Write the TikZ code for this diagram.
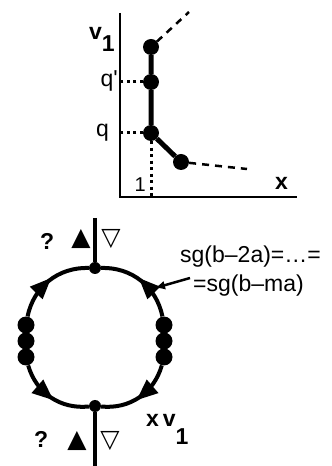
\documentclass[tikz,border=0pt]{standalone}
\usepackage{fontspec}
\setmainfont{Liberation Sans}
\newfontfamily\symfont{DejaVu Sans}
\usetikzlibrary{arrows.meta, positioning, decorations.markings}
\tikzstyle{dot} = [circle, fill=black, inner sep=0pt, minimum size=17pt]
\tikzstyle{smalldot} = [circle, fill=black, inner sep=0pt, minimum size=12pt]
\tikzstyle{txt} = [inner sep=0pt, font=\fontsize{23}{26}\selectfont]
\tikzstyle{sym} = [inner sep=0pt, font=\symfont\fontsize{25}{28}\selectfont]
\tikzstyle{axis} = [line width=2pt]
\tikzstyle{chain} = [line width=5pt]
\tikzstyle{guide} = [line width=3pt, dash pattern=on 3pt off 3.5pt]
\tikzstyle{tail} = [line width=2.5pt, dash pattern=on 7pt off 6pt]
\tikzstyle{ring} = [line width=4pt, postaction={decorate}, decoration={markings, mark=at position 0.42 with {\fill (-11pt,-9pt) -- (10pt,0pt) -- (-11pt,9pt) -- cycle;}}]
\tikzstyle{stem} = [line width=4.5pt]
\tikzstyle{pointer} = [line width=2.5pt, -{Latex[length=10pt,width=9pt]}]

\begin{document}
\begin{tikzpicture}[x=1pt, y=1pt]
    \useasboundingbox (0,0) rectangle (332,466);

    % Plot
    \coordinate (origin) at (120,269);
    \coordinate (ytop) at (120,453);
    \coordinate (xend) at (297,269);
    \node (p3) [dot, minimum size=16pt] at (151,419) {};
    \node (p2) [dot, minimum size=16pt] at (151,384) {};
    \node (p1) [dot, minimum size=16pt] at (151,333) {};
    \node (p0) [dot, minimum size=16pt] at (181,304) {};
    \coordinate (taila) at (189,454);
    \coordinate (tailb) at (247,297);
    \coordinate (qpr) at (120,384);
    \coordinate (qq) at (120,333);
    \coordinate (one) at (151,269);

    \node (v1) [txt, anchor=base west] at (89,426) {\bfseries v\raisebox{-12pt}{1}};
    \node (qprlbl) [txt, anchor=base east] at (118,379) {\addfontfeatures{Ligatures=TeXOff}q'};
    \node (qlbl) [txt, anchor=base east] at (109,329) {q};
    \node (onelbl) [txt, anchor=base east, font=\fontsize{20}{22}\selectfont] at (146,274) {1};
    \node (xlbl) [txt, anchor=base west] at (275,276) {\bfseries x};

    \draw [axis] (ytop) -- (origin) -- (xend);
    \draw [chain] (p3) -- (p2) -- (p1) -- (p0);
    \draw [tail] (p3) -- (taila);
    \draw [tail] (p0) -- (tailb);
    \draw [guide] (p2) -- (qpr);
    \draw [guide] (p1) -- (qq);
    \draw [guide] (p1) -- (one);

    % Loop
    \node (top) [smalldot] at (95,198) {};
    \node (bot) [smalldot] at (95,60) {};
    \node (lt) [dot] at (26,141) {};
    \node (lm) [dot] at (26,125) {};
    \node (lb) [dot] at (26,109) {};
    \node (rt) [dot] at (164,141) {};
    \node (rm) [dot] at (164,125) {};
    \node (rb) [dot] at (164,109) {};
    \coordinate (stemtop) at (95,248);
    \coordinate (stembot) at (95,0);
    \coordinate (hit) at (155,178);
    \coordinate (from) at (190,188);

    \draw [stem] (stemtop) -- (top);
    \draw [stem] (bot) -- (stembot);
    \draw [ring] (lt) to[bend left=40] (top);
    \draw [ring] (rt) to[bend right=40] (top);
    \draw [ring] (lb) to[bend right=40] (bot);
    \draw [ring] (rb) to[bend left=40] (bot);

    \node (qtop) [txt, anchor=base west] at (40,216) {\bfseries ?};
    \node (uptop) [sym] at (81,227) {▲};
    \node (dntop) [sym] at (111,227) {▽};
    \node (qbot) [txt, anchor=base west] at (34,19) {\bfseries ?};
    \node (upbot) [sym] at (77,25) {▲};
    \node (dnbot) [sym] at (110,25) {▽};
    \node (xv1) [txt, anchor=base west] at (146,39) {\bfseries x\,v\raisebox{-18pt}{1}};

    \node (sgup) [txt, anchor=base west] at (180,203) {sg(b–2a)=…=};
    \node (sglow) [txt, anchor=base west] at (193,174) {=sg(b–ma)};
    \draw [pointer] (from) -- (hit);
\end{tikzpicture}
\end{document}
